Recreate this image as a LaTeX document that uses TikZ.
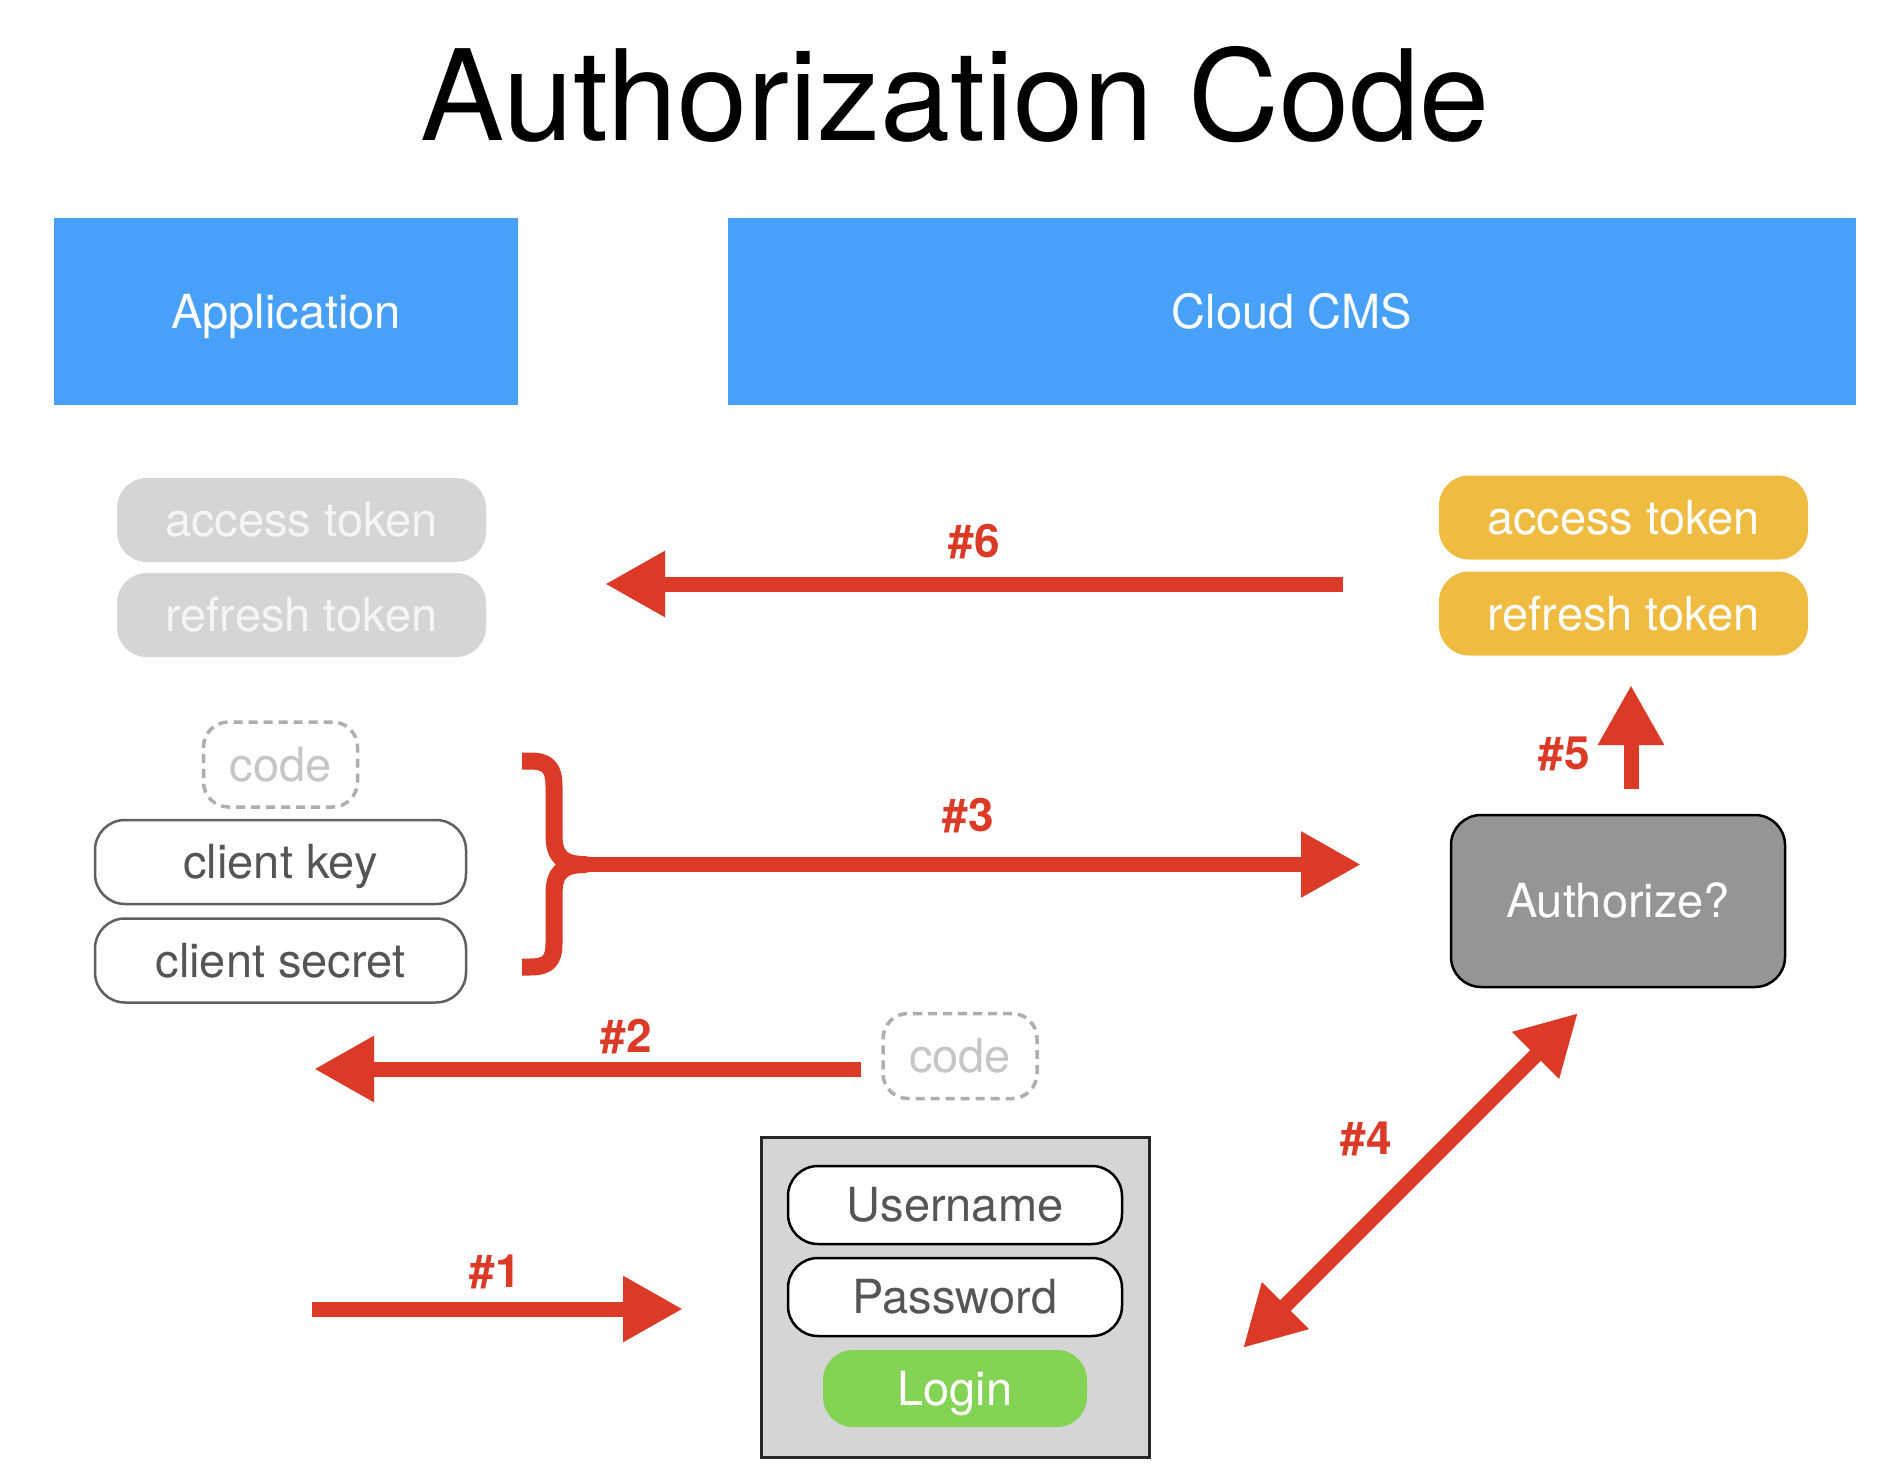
\documentclass[tikz,border=0pt]{standalone}
\usepackage{fontspec}
\setmainfont{TeX Gyre Heros}
\usetikzlibrary{arrows.meta}
\definecolor{cblue}{HTML}{48A1F8}
\definecolor{cred}{HTML}{DB3A27}
\definecolor{ctok}{HTML}{D5D5D5}
\definecolor{ctoktext}{HTML}{F5F5F5}
\definecolor{corange}{HTML}{EFBC41}
\definecolor{cauth}{HTML}{959595}
\definecolor{cgreen}{HTML}{83D455}
\definecolor{ctext}{HTML}{555555}
\definecolor{ccode}{HTML}{C6C6C6}
\definecolor{cdash}{HTML}{AEAEAE}
\definecolor{cborder}{HTML}{606060}
\definecolor{cpanel}{HTML}{D5D5D5}
\begin{document}
\begin{tikzpicture}[x=1pt,y=-1pt,
  lbl/.style={font=\fontsize{47}{47}\selectfont, text height=33.5pt, text depth=0pt, inner sep=0pt, outer sep=0pt},
  header/.style={lbl, fill=cblue, text=white, minimum height=187pt},
  token/.style={lbl, rounded corners=30pt, minimum width=369pt, minimum height=84pt, text=white},
  field/.style={lbl, rounded corners=30pt, line width=2.5pt, fill=white, text=ctext},
  codebox/.style={lbl, rounded corners=25pt, draw=cdash, dash pattern=on 9pt off 6pt, line width=3.5pt, text=ccode, minimum width=154pt, minimum height=85pt},
  flow/.style={draw=cred, line width=15pt, -{Triangle[length=60pt,width=62pt]}},
  bothflow/.style={draw=cred, line width=15pt, {Triangle[length=60pt,width=62pt]}-{Triangle[length=60pt,width=62pt]}},
  num/.style={font=\bfseries\fontsize{46}{46}\selectfont, text=cred, text height=33pt, text depth=0pt, inner sep=0pt}
]
\useasboundingbox (0,0) rectangle (1880,1474);
\fill[white] (0,0) rectangle (1880,1474);

% title
\node[anchor=base, font=\fontsize{126}{126}\selectfont, inner sep=0pt] (title) at (955,141) {Authorization Code};

% headers
\node[header, minimum width=464pt] (app) at (286,311.5) {Application};
\node[header, minimum width=1128pt] (cms) at (1292,311.5) {Cloud CMS};

% tokens
\node[token, fill=ctok, text=ctoktext] (lat) at (301.5,520) {access token};
\node[token, fill=ctok, text=ctoktext] (lrt) at (301.5,615) {refresh token};
\node[token, fill=corange] (rat) at (1623.5,517.5) {access token};
\node[token, fill=corange] (rrt) at (1623.5,613.5) {refresh token};

% client credentials
\node[codebox] (lcode) at (280.5,764.5) {code};
\node[field, draw=cborder, minimum width=371pt, minimum height=84pt] (ckey) at (280.5,862) {client key};
\node[field, draw=cborder, minimum width=371pt, minimum height=84pt] (csec) at (280.5,960.5) {client secret};

% authorize
\node[lbl, rounded corners=30pt, draw=black, line width=2.5pt, fill=cauth, text=white, minimum width=334pt, minimum height=172pt] (auth) at (1618,901) {Authorize?};

% code right
\node[codebox] (rcode) at (960,1056) {code};

% login panel
\node[draw=black!85, line width=3pt, fill=cpanel, minimum width=388pt, minimum height=320pt, inner sep=0pt] (panel) at (955,1297) {};
\node[field, draw=black, minimum width=334pt, minimum height=78pt] (user) at (955,1205) {Username};
\node[field, draw=black, minimum width=334pt, minimum height=78pt] (pass) at (955,1297) {Password};
\node[lbl, rounded corners=30pt, fill=cgreen, text=white, minimum width=264pt, minimum height=77pt] (login) at (955,1388.5) {Login};

% arrow end points
\coordinate (a6s) at (1343,584);
\coordinate (a6e) at (605,584);
\coordinate (a3s) at (578,864.5);
\coordinate (a3e) at (1361,864.5);
\coordinate (a2s) at (861,1069);
\coordinate (a2e) at (314,1069);
\coordinate (a1s) at (312,1309);
\coordinate (a1e) at (683,1309);
\coordinate (a4s) at (1243,1348);
\coordinate (a4e) at (1578,1013);
\coordinate (a5s) at (1631,789);
\coordinate (a5e) at (1631,685);

% brace
\draw[cred, line width=17pt, line join=round]
  (522,761) -- (530,761) .. controls (548,761) and (554,768) .. (554,786)
  -- (554,835) .. controls (554,856) and (562,864.5) .. (585,864.5)
  .. controls (562,864.5) and (554,873) .. (554,894)
  -- (554,943) .. controls (554,961) and (548,967) .. (530,967) -- (522,967);

% arrows
\draw[flow] (a6s) -- (a6e);
\draw[flow] (a3s) -- (a3e);
\draw[flow] (a2s) -- (a2e);
\draw[flow] (a1s) -- (a1e);
\draw[bothflow] (a4s) -- (a4e);
\draw[flow] (a5s) -- (a5e);

% labels
\node[num] (n6) at (974,541) {\#6};
\node[num] (n5) at (1564,753) {\#5};
\node[num] (n3) at (968,815) {\#3};
\node[num] (n2) at (626,1036) {\#2};
\node[num] (n1) at (495,1271) {\#1};
\node[num] (n4) at (1366,1138) {\#4};
\end{tikzpicture}
\end{document}
